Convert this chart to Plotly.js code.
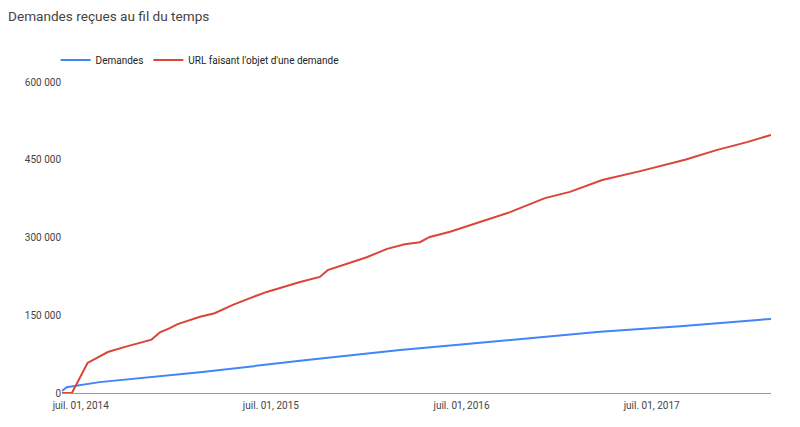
<!DOCTYPE html>
<html>
<head>
<meta charset="utf-8">
<script src="https://cdn.plot.ly/plotly-3.0.1.min.js"></script>
<style>
    html, body { margin: 0; padding: 0; background: #fff; }
    #chart { width: 800px; height: 427px; }
</style>
</head>
<body>
<div id="chart"></div>
<script>
// values
var demandDates = ["2014-05-26", "2014-06-04", "2014-08-06", "2015-02-15", "2015-08-26",
    "2016-03-05", "2016-07-11", "2016-12-18", "2017-03-24", "2017-08-25", "2018-02-15"];
var demandValues = [4000, 11000, 21000, 40000, 62000,
    83000, 94500, 109000, 118000, 129000, 143000];

var urlDates = ["2014-05-26", "2014-06-14", "2014-07-14", "2014-08-22", "2014-09-24",
    "2014-10-22", "2014-11-14", "2014-11-30", "2014-12-19", "2015-01-03",
    "2015-02-15", "2015-03-15", "2015-04-19", "2015-05-22", "2015-06-23",
    "2015-08-26", "2015-10-03", "2015-10-18", "2015-11-30", "2016-01-01",
    "2016-02-09", "2016-03-14", "2016-04-12", "2016-05-01", "2016-06-09",
    "2016-08-05", "2016-10-02", "2016-12-08", "2017-01-25", "2017-03-28",
    "2017-06-09", "2017-09-03", "2017-11-04", "2017-12-31", "2018-02-15"];
var urlValues = [0, 0, 58000, 79000, 89000,
    96000, 103000, 117000, 125000, 133000,
    147000, 154000, 170000, 183000, 195000,
    214000, 224000, 237000, 251000, 262000,
    278000, 287000, 291000, 301000, 311000,
    330000, 349000, 376000, 388000, 411000,
    428000, 450000, 469000, 484000, 498000];

var xTickVals = ["2014-07-01", "2015-07-01", "2016-07-01", "2017-07-01"];
var xTickText = ["juil. 01, 2014", "juil. 01, 2015", "juil. 01, 2016", "juil. 01, 2017"];
var yTickVals = [0, 150000, 300000, 450000, 600000];
var yTickText = ["0", "150 000", "300 000", "450 000", "600 000"];

var traces = [
    {
        x: demandDates,
        y: demandValues,
        name: "Demandes",
        type: "scatter",
        mode: "lines",
        line: {color: "#4285f4", width: 2}
    },
    {
        x: urlDates,
        y: urlValues,
        name: "URL faisant l'objet d'une demande",
        type: "scatter",
        mode: "lines",
        line: {color: "#db4437", width: 2}
    }
];

var layout = {
    width: 800,
    height: 427,
    margin: {l: 62, r: 29, t: 82, b: 34},
    paper_bgcolor: "#fff",
    plot_bgcolor: "#fff",
    font: {family: "Roboto, Arial, sans-serif", size: 10, color: "#444"},
    title: {
        text: "Demandes reçues au fil du temps",
        font: {family: "Roboto, Arial, sans-serif", size: 13.6, color: "#444"},
        xref: "container", yref: "container",
        x: 0.01, xanchor: "left",
        y: 0.963, yanchor: "middle"
    },
    showlegend: true,
    legend: {
        orientation: "h",
        x: -0.009, xanchor: "left",
        y: 1.071, yanchor: "middle",
        font: {size: 10, color: "#222"},
        itemwidth: 30
    },
    xaxis: {
        type: "date",
        range: [demandDates[0], demandDates[demandDates.length - 1]],
        tickvals: xTickVals,
        ticktext: xTickText,
        showgrid: false,
        zeroline: false,
        showline: true,
        linecolor: "#999",
        linewidth: 1,
        ticks: "",
        ticklabelstandoff: 3,
        tickfont: {size: 10, color: "#444"}
    },
    yaxis: {
        range: [0, 600000],
        tickvals: yTickVals,
        ticktext: yTickText,
        showgrid: false,
        zeroline: false,
        showline: false,
        ticks: "",
        tickfont: {size: 10, color: "#444"}
    }
};

Plotly.newPlot("chart", traces, layout, {displayModeBar: false, staticPlot: true});
</script>
</body>
</html>
